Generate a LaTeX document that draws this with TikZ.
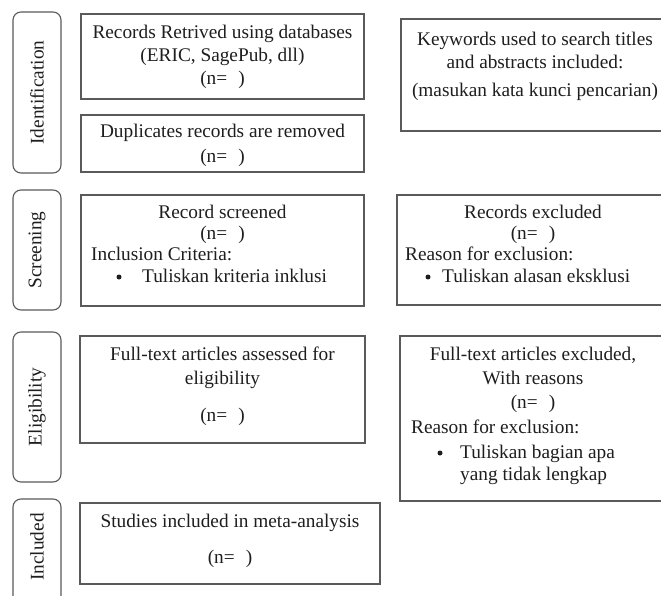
\documentclass[tikz,border=0pt]{standalone}
\usepackage{fontspec}
\setmainfont{Liberation Serif}
\begin{document}
\begin{tikzpicture}[x=1pt,y=-1pt,
  box/.style={draw=boxgray,line width=1.2pt,rectangle,inner sep=0pt},
  side/.style={draw=boxgray,line width=1.1pt,rectangle,rounded corners=8pt,inner sep=0pt},
  txt/.style={anchor=base,inner sep=0pt,text=txtcol,font=\fontsize{19.3}{22}\selectfont},
  ltxt/.style={txt,anchor=base west},
  bul/.style={circle,fill=txtcol,inner sep=0pt,minimum size=5pt},
  sidetxt/.style={inner sep=0pt,text=txtcol,rotate=90,font=\fontsize{19.3}{22}\selectfont}]
\definecolor{boxgray}{HTML}{5A5A5A}
\definecolor{txtcol}{HTML}{1E1E1E}
\useasboundingbox (0,0) rectangle (661,596);
\clip (0,0) rectangle (661,596);
\fill[white] (0,0) rectangle (661,596);
\newcommand\nn{(n=\hspace{11pt})}
% side labels
\node[side,minimum width=48pt,minimum height=161pt] (sid) at (37,92.5) {};
\node[sidetxt] (tid) at (sid.center) {Identification};
\node[side,minimum width=48pt,minimum height=120pt] (ssc) at (37,250) {};
\node[sidetxt] (tsc) at (ssc.center) {Screening};
\node[side,minimum width=48pt,minimum height=150pt] (sel) at (37,407) {};
\node[sidetxt] (tel) at (sel.center) {Eligibility};
\node[side,minimum width=48pt,minimum height=130pt] (sin) at (37,564) {};
\node[sidetxt] (tin) at (37,547) {Included};
% identification
\node[box,minimum width=283pt,minimum height=85pt] (rec) at (222.5,56.5) {};
\node[txt] (rec1) at (222.5,38.5) {Records Retrived using databases};
\node[txt] (rec2) at (222.5,61.5) {(ERIC, SagePub, dll)};
\node[txt] (rec3) at (222.5,85) {\nn};
\node[box,minimum width=283pt,minimum height=57pt] (dup) at (222.5,143.5) {};
\node[txt] (dup1) at (222.5,137.5) {Duplicates records are removed};
\node[txt] (dup2) at (222.5,163) {\nn};
\node[box,minimum width=300pt,minimum height=112pt] (kw) at (551,75) {};
\node[txt] (kw1) at (535,45.5) {Keywords used to search titles};
\node[txt] (kw2) at (535,68.5) {and abstracts included:};
\node[txt] (kw3) at (535,97) {(masukan kata kunci pencarian)};
% screening
\node[box,minimum width=283pt,minimum height=111pt] (scr) at (222.5,250.5) {};
\node[txt] (scr1) at (222.5,218.5) {Record screened};
\node[txt] (scr2) at (222.5,239.5) {\nn};
\node[ltxt] (scr3) at (91,260.5) {Inclusion Criteria:};
\node[bul] (scrb) at (119,277) {};
\node[ltxt] (scr4) at (142,282.5) {Tuliskan kriteria inklusi};
\node[box,minimum width=303pt,minimum height=110pt] (exc) at (548.5,250) {};
\node[txt] (exc1) at (533,218.5) {Records excluded};
\node[txt] (exc2) at (533,239.5) {\nn};
\node[ltxt] (exc3) at (405,260.5) {Reason for exclusion:};
\node[bul] (excb) at (428,277) {};
\node[ltxt] (exc4) at (442,282.5) {Tuliskan alasan eksklusi};
% eligibility
\node[box,minimum width=285pt,minimum height=107pt] (ft) at (222.5,389.5) {};
\node[txt] (ft1) at (222.5,360.5) {Full-text articles assessed for};
\node[txt] (ft2) at (222.5,384.5) {eligibility};
\node[txt] (ft3) at (222.5,421.5) {\nn};
\node[box,minimum width=300pt,minimum height=165pt] (fx) at (550,418.5) {};
\node[txt] (fx1) at (533,360.5) {Full-text articles excluded,};
\node[txt] (fx2) at (533,384.5) {With reasons};
\node[txt] (fx3) at (533,408.5) {\nn};
\node[ltxt] (fx4) at (411,433.5) {Reason for exclusion:};
\node[bul] (fxb) at (440,453) {};
\node[ltxt] (fx5) at (460,458.5) {Tuliskan bagian apa};
\node[ltxt] (fx6) at (460,480.5) {yang tidak lengkap};
% included
\node[box,minimum width=300pt,minimum height=81pt] (st) at (230,543.5) {};
\node[txt] (st1) at (230,527.5) {Studies included in meta-analysis};
\node[txt] (st2) at (230,563.5) {\nn};
\end{tikzpicture}
\end{document}
